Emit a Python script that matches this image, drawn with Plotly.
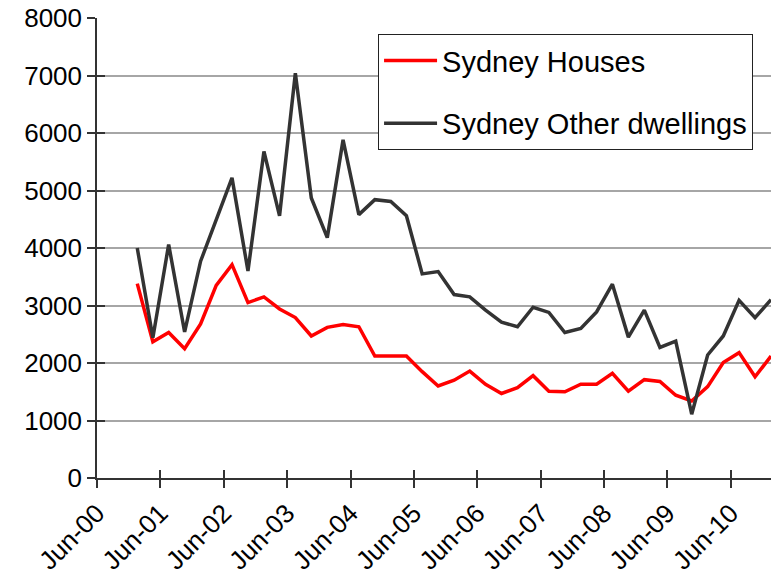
import plotly.graph_objects as go
import pandas as pd

# quarterly observations, Jan-01 .. Jan-11
quarters = pd.date_range("2001-01-01", periods=41, freq="3MS") + pd.Timedelta(days=18)

houses = [3380, 2370, 2530, 2250, 2680, 3350, 3710, 3050, 3150, 2940,
          2790, 2470, 2620, 2670, 2630, 2120, 2120, 2120, 1850, 1600,
          1700, 1860, 1630, 1470, 1570, 1780, 1510, 1500, 1630, 1630,
          1820, 1510, 1710, 1680, 1440, 1340, 1590, 2010, 2180, 1760,
          2120]

other = [4000, 2440, 4060, 2540, 3770, 4480, 5220, 3600, 5680, 4560,
         7040, 4870, 4180, 5880, 4580, 4840, 4810, 4560, 3550, 3590,
         3190, 3150, 2920, 2710, 2630, 2970, 2880, 2530, 2600, 2890,
         3370, 2450, 2920, 2270, 2380, 1110, 2140, 2470, 3090, 2790,
         3100]

series_names = ["Sydney Houses", "Sydney Other dwellings"]
y_ticks = [0, 1000, 2000, 3000, 4000, 5000, 6000, 7000, 8000]

font = "Arial, Liberation Sans, sans-serif"
axis_col = "#333333"

fig = go.Figure()

fig.add_trace(go.Scatter(
    x=quarters, y=houses, mode="lines", name=series_names[0],
    line=dict(color="#ff0000", width=3.5), legendgroup="a",
))
fig.add_trace(go.Scatter(
    x=quarters, y=other, mode="lines", name=series_names[1],
    line=dict(color="#333333", width=3.5), legendgroup="b",
))
# empty traces so the overlay axes (inner half of the crossing ticks) get drawn
fig.add_trace(go.Scatter(x=[], y=[], xaxis="x2", yaxis="y", showlegend=False, hoverinfo="skip"))
fig.add_trace(go.Scatter(x=[], y=[], xaxis="x", yaxis="y2", showlegend=False, hoverinfo="skip"))

fig.update_layout(
    width=771, height=578,
    margin=dict(l=97, r=0, t=18, b=100, autoexpand=False),
    paper_bgcolor="white", plot_bgcolor="white",
    font=dict(family=font, size=26, color="black"),
    legend=dict(
        x=0.417, y=0.965, xanchor="left", yanchor="top",
        bordercolor="#222222", borderwidth=1, bgcolor="white",
        font=dict(size=29), traceorder="grouped", tracegroupgap=22,
        itemwidth=53,
    ),
    xaxis=dict(
        type="date", range=["2000-06-01", quarters[-1]], automargin=False,
        tick0="2000-06-01", dtick="M12", tickformat="%b-%y",
        tickangle=-45, ticks="outside", ticklen=8, tickwidth=1.5,
        tickcolor=axis_col, showline=True, linecolor=axis_col, linewidth=1.5,
        showgrid=False, zeroline=False, ticklabeloverflow="allow",
    ),
    xaxis2=dict(
        type="date", overlaying="x", matches="x", anchor="y", side="bottom",
        tick0="2000-06-01", dtick="M12", ticks="inside", ticklen=8,
        tickwidth=1.5, tickcolor=axis_col, showticklabels=False,
        showgrid=False, showline=False, zeroline=False, automargin=False,
    ),
    yaxis=dict(
        range=[0, 8000], tickvals=y_ticks, ticks="outside", ticklen=8,
        tickwidth=1.5, tickcolor=axis_col, showline=True, linecolor=axis_col,
        linewidth=1.5, showgrid=True, gridcolor="#a6a6a6", gridwidth=1.5,
        zeroline=False, automargin=False, ticklabeloverflow="allow",
    ),
    yaxis2=dict(
        overlaying="y", matches="y", anchor="x", side="left",
        tickvals=y_ticks, ticks="inside", ticklen=8, tickwidth=1.5,
        tickcolor=axis_col, showticklabels=False, showgrid=False,
        showline=False, zeroline=False, automargin=False,
    ),
)

# drop the browser's default 8px body margin so the figure fills the window
fig.write_html(
    "out.html",
    config={"displayModeBar": False},
    post_script="document.body.style.margin = '0';",
)
